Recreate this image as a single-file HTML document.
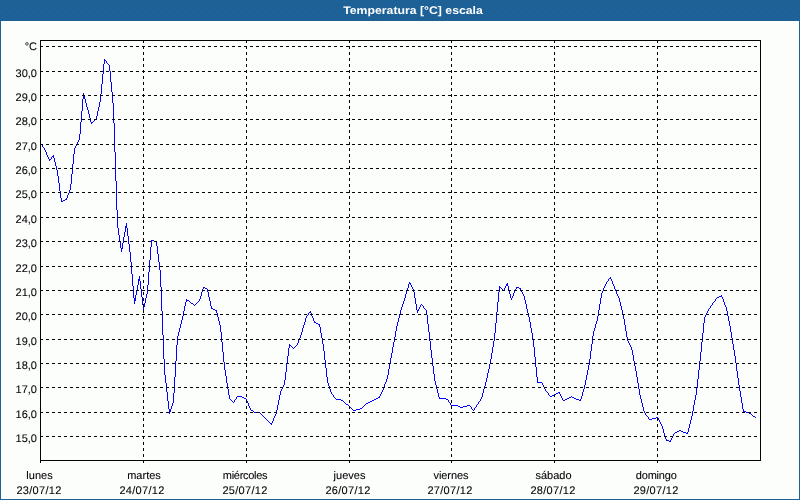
<!DOCTYPE html>
<html lang="es">
<head>
<meta charset="utf-8">
<title>Temperatura [°C] escala</title>
<style>
html,body{margin:0;padding:0;background:#fcfefc;overflow:hidden}
body{width:800px;height:500px;position:relative;font-family:'Liberation Sans', sans-serif}
svg{position:absolute;left:0;top:0;display:block}
svg text{font-family:'Liberation Sans', sans-serif;font-size:11px;fill:#040204;stroke:#040204;stroke-width:0.08px;text-rendering:geometricPrecision}
svg text.title{fill:#fff;stroke:none;font-weight:bold}
</style>
</head>
<body>
<svg width="800" height="500" viewBox="0 0 800 500">
<defs>
<pattern id="dither" x="0" y="0" width="8" height="12" patternUnits="userSpaceOnUse">
<rect width="8" height="12" fill="#1c6094"/>
<path d="M0 0h1v1h-1zM4 1h1v1h-1zM2 2h1v1h-1zM7 2h1v1h-1zM3 4h1v1h-1zM0 5h1v1h-1zM5 5h1v1h-1zM3 7h1v1h-1zM7 8h1v1h-1zM1 9h1v1h-1zM5 9h1v1h-1zM0 11h1v1h-1zM4 11h1v1h-1z" fill="#2062ac"/>
</pattern>
</defs>
<g shape-rendering="crispEdges">
<rect x="0" y="0" width="800" height="500" fill="#fcfefc"/>
<rect x="0" y="0" width="800" height="21" fill="url(#dither)"/>
<rect x="0" y="21" width="1" height="479" fill="#1c6094"/>
<rect x="799" y="21" width="1" height="479" fill="#1c6094"/>
<rect x="0" y="499" width="800" height="1" fill="#1c6094"/>
</g>
<text class="title" text-anchor="middle" transform="translate(413 14) scale(1.115 1)" x="0" y="0">Temperatura [°C] escala</text>
<g shape-rendering="crispEdges" fill="none" stroke="#040204" stroke-width="1">

<path stroke="none" fill="#0402fc" d="M40 143h1v1h-1zM41 144h1v1h-1zM42 145h1v2h-1zM43 147h1v1h-1zM44 148h1v2h-1zM45 150h1v2h-1zM46 152h1v3h-1zM47 155h1v2h-1zM48 157h1v2h-1zM49 159h1v2h-1zM50 159h1v1h-1zM51 157h1v2h-1zM52 156h1v1h-1zM53 155h1v3h-1zM54 158h1v4h-1zM55 162h1v4h-1zM56 166h1v4h-1zM57 170h1v6h-1zM58 176h1v7h-1zM59 183h1v8h-1zM60 191h1v7h-1zM61 198h1v4h-1zM62 201h1v1h-1zM63 200h2v1h-2zM65 199h1v1h-1zM66 198h1v2h-1zM67 195h1v3h-1zM68 193h1v2h-1zM69 190h1v3h-1zM70 184h1v6h-1zM71 174h1v10h-1zM72 164h1v10h-1zM73 154h1v10h-1zM74 148h1v6h-1zM75 146h1v2h-1zM76 144h1v2h-1zM77 142h1v2h-1zM78 140h1v2h-1zM79 134h1v6h-1zM80 122h1v12h-1zM81 111h1v11h-1zM82 99h1v12h-1zM83 93h1v6h-1zM84 95h1v4h-1zM85 99h1v4h-1zM86 103h1v4h-1zM87 107h1v3h-1zM88 110h1v4h-1zM89 114h1v4h-1zM90 118h1v4h-1zM91 122h1v2h-1zM92 122h1v1h-1zM93 121h1v1h-1zM94 120h1v1h-1zM95 119h1v1h-1zM96 116h1v3h-1zM97 111h1v5h-1zM98 107h1v4h-1zM99 102h1v5h-1zM100 94h1v8h-1zM101 84h1v10h-1zM102 74h1v10h-1zM103 64h1v10h-1zM104 59h1v5h-1zM105 60h1v1h-1zM106 61h1v2h-1zM107 63h1v1h-1zM108 64h1v1h-1zM109 65h1v6h-1zM110 71h1v11h-1zM111 82h1v10h-1zM112 92h1v11h-1zM113 103h1v20h-1zM114 123h1v29h-1zM115 152h1v29h-1zM116 181h1v29h-1zM117 210h1v18h-1zM118 228h1v7h-1zM119 235h1v6h-1zM120 241h1v7h-1zM121 248h1v4h-1zM122 243h1v6h-1zM123 237h1v6h-1zM124 232h1v5h-1zM125 226h1v6h-1zM126 223h1v5h-1zM127 228h1v8h-1zM128 236h1v8h-1zM129 244h1v8h-1zM130 252h1v10h-1zM131 262h1v12h-1zM132 274h1v12h-1zM133 286h1v12h-1zM134 298h1v6h-1zM135 295h1v6h-1zM136 290h1v5h-1zM137 285h1v5h-1zM138 279h1v6h-1zM139 276h1v5h-1zM140 281h1v8h-1zM141 289h1v8h-1zM142 297h1v8h-1zM143 305h1v5h-1zM144 303h1v4h-1zM145 298h1v5h-1zM146 294h1v4h-1zM147 285h1v9h-1zM148 272h1v13h-1zM149 260h1v12h-1zM150 247h1v13h-1zM151 240h1v7h-1zM152 240h2v1h-2zM154 241h2v1h-2zM156 241h1v5h-1zM157 246h1v8h-1zM158 254h1v8h-1zM159 262h1v8h-1zM160 270h1v17h-1zM161 287h1v24h-1zM162 311h1v24h-1zM163 335h1v24h-1zM164 359h1v16h-1zM165 375h1v8h-1zM166 383h1v9h-1zM167 392h1v9h-1zM168 401h1v8h-1zM169 409h1v5h-1zM170 409h1v3h-1zM171 406h1v3h-1zM172 403h1v3h-1zM173 393h1v10h-1zM174 377h1v16h-1zM175 361h1v16h-1zM176 345h1v16h-1zM177 336h1v9h-1zM178 332h1v4h-1zM179 328h1v4h-1zM180 324h1v4h-1zM181 320h1v4h-1zM182 316h1v4h-1zM183 311h1v5h-1zM184 306h1v5h-1zM185 302h1v4h-1zM186 299h1v3h-1zM187 300h2v1h-2zM189 301h1v1h-1zM190 302h1v1h-1zM191 303h2v1h-2zM193 304h1v1h-1zM194 305h1v1h-1zM195 304h1v1h-1zM196 303h1v1h-1zM197 302h1v1h-1zM198 301h1v1h-1zM199 299h1v2h-1zM200 296h1v3h-1zM201 292h1v4h-1zM202 289h1v3h-1zM203 287h1v2h-1zM204 287h1v1h-1zM205 288h2v1h-2zM207 289h1v3h-1zM208 292h1v5h-1zM209 297h1v4h-1zM210 301h1v5h-1zM211 306h1v3h-1zM212 308h1v1h-1zM213 309h2v1h-2zM215 310h1v1h-1zM216 310h1v3h-1zM217 313h1v4h-1zM218 317h1v4h-1zM219 321h1v4h-1zM220 325h1v7h-1zM221 332h1v10h-1zM222 342h1v10h-1zM223 352h1v10h-1zM224 362h1v8h-1zM225 370h1v6h-1zM226 376h1v7h-1zM227 383h1v6h-1zM228 389h1v6h-1zM229 395h1v4h-1zM230 399h1v1h-1zM231 400h1v1h-1zM232 401h1v1h-1zM233 402h1v1h-1zM234 400h1v2h-1zM235 399h1v1h-1zM236 397h1v2h-1zM237 396h5v1h-5zM242 397h2v1h-2zM244 398h2v1h-2zM246 399h1v2h-1zM247 401h1v2h-1zM248 403h1v3h-1zM249 406h1v2h-1zM250 408h1v2h-1zM251 410h2v1h-2zM253 411h1v1h-1zM254 412h6v1h-6zM260 413h1v1h-1zM261 414h1v1h-1zM262 415h1v1h-1zM263 416h1v1h-1zM264 417h1v1h-1zM265 418h1v1h-1zM266 419h1v1h-1zM267 420h1v1h-1zM268 421h1v1h-1zM269 422h1v1h-1zM270 423h1v1h-1zM271 423h1v2h-1zM272 421h1v2h-1zM273 418h1v3h-1zM274 416h1v2h-1zM275 414h1v2h-1zM276 410h1v4h-1zM277 405h1v5h-1zM278 400h1v5h-1zM279 395h1v5h-1zM280 391h1v4h-1zM281 389h1v2h-1zM282 387h1v2h-1zM283 385h1v2h-1zM284 380h1v5h-1zM285 372h1v8h-1zM286 364h1v8h-1zM287 356h1v8h-1zM288 348h1v8h-1zM289 344h1v4h-1zM290 345h1v1h-1zM291 346h1v1h-1zM292 347h1v1h-1zM293 348h1v1h-1zM294 347h1v1h-1zM295 346h1v1h-1zM296 345h1v1h-1zM297 343h1v2h-1zM298 340h1v3h-1zM299 338h1v2h-1zM300 335h1v3h-1zM301 332h1v3h-1zM302 328h1v4h-1zM303 325h1v3h-1zM304 322h1v3h-1zM305 318h1v4h-1zM306 316h1v2h-1zM307 315h1v1h-1zM308 313h1v2h-1zM309 312h1v1h-1zM310 311h1v2h-1zM311 313h1v3h-1zM312 316h1v2h-1zM313 318h1v3h-1zM314 321h1v2h-1zM315 322h1v1h-1zM316 323h2v1h-2zM318 324h1v1h-1zM319 324h1v3h-1zM320 327h1v6h-1zM321 333h1v5h-1zM322 338h1v6h-1zM323 344h1v7h-1zM324 351h1v9h-1zM325 360h1v8h-1zM326 368h1v9h-1zM327 377h1v6h-1zM328 383h1v3h-1zM329 386h1v3h-1zM330 389h1v3h-1zM331 392h1v2h-1zM332 394h1v1h-1zM333 395h1v2h-1zM334 397h1v1h-1zM335 398h1v1h-1zM336 399h5v1h-5zM341 400h2v1h-2zM343 401h1v1h-1zM344 402h1v1h-1zM345 403h1v1h-1zM346 404h2v1h-2zM348 405h1v1h-1zM349 406h1v1h-1zM350 407h1v1h-1zM351 408h1v1h-1zM352 409h1v1h-1zM353 410h3v1h-3zM356 409h4v1h-4zM360 408h2v1h-2zM362 407h1v1h-1zM363 406h1v1h-1zM364 405h1v1h-1zM365 404h1v1h-1zM366 403h2v1h-2zM368 402h2v1h-2zM370 401h2v1h-2zM372 400h2v1h-2zM374 399h2v1h-2zM376 398h2v1h-2zM378 397h1v1h-1zM379 396h1v2h-1zM380 394h1v2h-1zM381 392h1v2h-1zM382 390h1v2h-1zM383 387h1v3h-1zM384 384h1v3h-1zM385 382h1v2h-1zM386 379h1v3h-1zM387 375h1v4h-1zM388 369h1v6h-1zM389 364h1v5h-1zM390 358h1v6h-1zM391 353h1v5h-1zM392 347h1v6h-1zM393 342h1v5h-1zM394 337h1v5h-1zM395 331h1v6h-1zM396 326h1v5h-1zM397 322h1v4h-1zM398 318h1v4h-1zM399 314h1v4h-1zM400 310h1v4h-1zM401 307h1v3h-1zM402 304h1v3h-1zM403 301h1v3h-1zM404 298h1v3h-1zM405 294h1v4h-1zM406 291h1v3h-1zM407 288h1v3h-1zM408 284h1v4h-1zM409 282h1v2h-1zM410 283h1v2h-1zM411 285h1v2h-1zM412 287h1v2h-1zM413 289h1v3h-1zM414 292h1v6h-1zM415 298h1v6h-1zM416 304h1v6h-1zM417 310h1v3h-1zM418 309h1v2h-1zM419 307h1v2h-1zM420 305h1v2h-1zM421 304h1v1h-1zM422 305h1v1h-1zM423 306h1v2h-1zM424 308h1v1h-1zM425 309h1v1h-1zM426 310h1v5h-1zM427 315h1v9h-1zM428 324h1v8h-1zM429 332h1v9h-1zM430 341h1v9h-1zM431 350h1v8h-1zM432 358h1v8h-1zM433 366h1v8h-1zM434 374h1v7h-1zM435 381h1v4h-1zM436 385h1v4h-1zM437 389h1v4h-1zM438 393h1v4h-1zM439 397h1v2h-1zM440 398h6v1h-6zM446 399h2v1h-2zM448 400h1v2h-1zM449 402h1v1h-1zM450 403h1v2h-1zM451 405h7v1h-7zM458 406h2v1h-2zM460 407h3v1h-3zM463 406h4v1h-4zM467 405h3v1h-3zM470 406h1v1h-1zM471 407h1v2h-1zM472 409h1v1h-1zM473 410h1v1h-1zM474 408h1v2h-1zM475 407h1v1h-1zM476 405h1v2h-1zM477 404h1v1h-1zM478 402h1v2h-1zM479 401h1v1h-1zM480 399h1v2h-1zM481 397h1v2h-1zM482 393h1v4h-1zM483 389h1v4h-1zM484 386h1v3h-1zM485 382h1v4h-1zM486 378h1v4h-1zM487 373h1v5h-1zM488 369h1v4h-1zM489 364h1v5h-1zM490 359h1v5h-1zM491 353h1v6h-1zM492 347h1v6h-1zM493 341h1v6h-1zM494 333h1v8h-1zM495 323h1v10h-1zM496 312h1v11h-1zM497 302h1v10h-1zM498 292h1v10h-1zM499 286h1v6h-1zM500 287h1v1h-1zM501 288h1v1h-1zM502 289h1v1h-1zM503 290h1v1h-1zM504 288h1v2h-1zM505 286h1v2h-1zM506 284h1v2h-1zM507 283h1v3h-1zM508 286h1v4h-1zM509 290h1v4h-1zM510 294h1v4h-1zM511 298h1v2h-1zM512 296h1v2h-1zM513 293h1v3h-1zM514 291h1v2h-1zM515 289h1v2h-1zM516 287h1v2h-1zM517 287h2v1h-2zM519 288h1v1h-1zM520 288h1v2h-1zM521 290h1v2h-1zM522 292h1v2h-1zM523 294h1v2h-1zM524 296h1v4h-1zM525 300h1v4h-1zM526 304h1v5h-1zM527 309h1v4h-1zM528 313h1v4h-1zM529 317h1v5h-1zM530 322h1v6h-1zM531 328h1v5h-1zM532 333h1v6h-1zM533 339h1v8h-1zM534 347h1v10h-1zM535 357h1v10h-1zM536 367h1v10h-1zM537 377h1v6h-1zM538 382h4v1h-4zM542 383h1v2h-1zM543 385h1v2h-1zM544 387h1v2h-1zM545 389h1v2h-1zM546 391h1v1h-1zM547 392h1v1h-1zM548 393h1v2h-1zM549 395h1v1h-1zM550 396h2v1h-2zM552 395h2v1h-2zM554 394h2v1h-2zM556 393h2v1h-2zM558 392h1v1h-1zM559 392h1v2h-1zM560 394h1v2h-1zM561 396h1v2h-1zM562 398h1v2h-1zM563 400h2v1h-2zM565 399h2v1h-2zM567 398h2v1h-2zM569 397h2v1h-2zM571 396h1v1h-1zM572 397h2v1h-2zM574 398h2v1h-2zM576 399h3v1h-3zM579 400h1v1h-1zM580 399h1v2h-1zM581 396h1v3h-1zM582 392h1v4h-1zM583 389h1v3h-1zM584 385h1v4h-1zM585 380h1v5h-1zM586 375h1v5h-1zM587 370h1v5h-1zM588 365h1v5h-1zM589 359h1v6h-1zM590 351h1v8h-1zM591 344h1v7h-1zM592 336h1v8h-1zM593 331h1v5h-1zM594 328h1v3h-1zM595 324h1v4h-1zM596 321h1v3h-1zM597 316h1v5h-1zM598 310h1v6h-1zM599 304h1v6h-1zM600 298h1v6h-1zM601 293h1v5h-1zM602 291h1v2h-1zM603 288h1v3h-1zM604 286h1v2h-1zM605 284h1v2h-1zM606 282h1v2h-1zM607 281h1v1h-1zM608 279h1v2h-1zM609 278h1v1h-1zM610 277h1v2h-1zM611 279h1v2h-1zM612 281h1v3h-1zM613 284h1v2h-1zM614 286h1v3h-1zM615 289h1v2h-1zM616 291h1v3h-1zM617 294h1v2h-1zM618 296h1v2h-1zM619 298h1v4h-1zM620 302h1v4h-1zM621 306h1v4h-1zM622 310h1v4h-1zM623 314h1v5h-1zM624 319h1v6h-1zM625 325h1v6h-1zM626 331h1v6h-1zM627 337h1v4h-1zM628 341h1v2h-1zM629 343h1v2h-1zM630 345h1v2h-1zM631 347h1v3h-1zM632 350h1v5h-1zM633 355h1v6h-1zM634 361h1v5h-1zM635 366h1v5h-1zM636 371h1v6h-1zM637 377h1v6h-1zM638 383h1v6h-1zM639 389h1v6h-1zM640 395h1v4h-1zM641 399h1v4h-1zM642 403h1v4h-1zM643 407h1v4h-1zM644 411h1v2h-1zM645 413h1v2h-1zM646 415h1v1h-1zM647 416h1v1h-1zM648 417h1v2h-1zM649 419h3v1h-3zM652 418h4v1h-4zM656 417h2v1h-2zM658 418h1v2h-1zM659 420h1v2h-1zM660 422h1v2h-1zM661 424h1v2h-1zM662 426h1v3h-1zM663 429h1v4h-1zM664 433h1v3h-1zM665 436h1v3h-1zM666 439h1v2h-1zM667 440h2v1h-2zM669 441h1v1h-1zM670 440h1v2h-1zM671 438h1v2h-1zM672 436h1v2h-1zM673 434h1v2h-1zM674 433h1v1h-1zM675 432h2v1h-2zM677 431h2v1h-2zM679 430h2v1h-2zM681 431h2v1h-2zM683 432h3v1h-3zM686 433h1v1h-1zM687 432h1v2h-1zM688 428h1v4h-1zM689 424h1v4h-1zM690 420h1v4h-1zM691 416h1v4h-1zM692 411h1v5h-1zM693 405h1v6h-1zM694 400h1v5h-1zM695 395h1v5h-1zM696 388h1v7h-1zM697 379h1v9h-1zM698 370h1v9h-1zM699 361h1v9h-1zM700 352h1v9h-1zM701 342h1v10h-1zM702 333h1v9h-1zM703 323h1v10h-1zM704 317h1v6h-1zM705 315h1v2h-1zM706 313h1v2h-1zM707 311h1v2h-1zM708 309h1v2h-1zM709 308h1v1h-1zM710 306h1v2h-1zM711 305h1v1h-1zM712 303h1v2h-1zM713 302h1v1h-1zM714 301h1v1h-1zM715 299h1v2h-1zM716 298h1v1h-1zM717 297h2v1h-2zM719 296h2v1h-2zM721 295h1v2h-1zM722 297h1v2h-1zM723 299h1v3h-1zM724 302h1v3h-1zM725 305h1v2h-1zM726 307h1v4h-1zM727 311h1v5h-1zM728 316h1v5h-1zM729 321h1v5h-1zM730 326h1v6h-1zM731 332h1v6h-1zM732 338h1v6h-1zM733 344h1v6h-1zM734 350h1v6h-1zM735 356h1v7h-1zM736 363h1v8h-1zM737 371h1v7h-1zM738 378h1v7h-1zM739 385h1v6h-1zM740 391h1v6h-1zM741 397h1v6h-1zM742 403h1v6h-1zM743 409h1v3h-1zM744 411h2v1h-2zM746 412h3v1h-3zM749 413h2v1h-2zM751 414h1v1h-1zM752 415h1v1h-1zM753 416h2v1h-2zM755 417h1v1h-1z"/>
<g stroke-dasharray="3 3">
<line x1="40" y1="46.5" x2="757" y2="46.5"/>
<line x1="40" y1="71.5" x2="757" y2="71.5"/>
<line x1="40" y1="95.5" x2="757" y2="95.5"/>
<line x1="40" y1="119.5" x2="757" y2="119.5"/>
<line x1="40" y1="144.5" x2="757" y2="144.5"/>
<line x1="40" y1="168.5" x2="757" y2="168.5"/>
<line x1="40" y1="192.5" x2="757" y2="192.5"/>
<line x1="40" y1="217.5" x2="757" y2="217.5"/>
<line x1="40" y1="241.5" x2="757" y2="241.5"/>
<line x1="40" y1="266.5" x2="757" y2="266.5"/>
<line x1="40" y1="290.5" x2="757" y2="290.5"/>
<line x1="40" y1="314.5" x2="757" y2="314.5"/>
<line x1="40" y1="339.5" x2="757" y2="339.5"/>
<line x1="40" y1="363.5" x2="757" y2="363.5"/>
<line x1="40" y1="387.5" x2="757" y2="387.5"/>
<line x1="40" y1="412.5" x2="757" y2="412.5"/>
<line x1="40" y1="436.5" x2="757" y2="436.5"/>
<line x1="143.5" y1="40" x2="143.5" y2="460"/>
<line x1="246.5" y1="40" x2="246.5" y2="460"/>
<line x1="349.5" y1="40" x2="349.5" y2="460"/>
<line x1="451.5" y1="40" x2="451.5" y2="460"/>
<line x1="554.5" y1="40" x2="554.5" y2="460"/>
<line x1="657.5" y1="40" x2="657.5" y2="460"/>
</g>
<rect x="40.5" y="40.5" width="720" height="420"/>
<line x1="40.5" y1="461" x2="40.5" y2="463"/>
<line x1="143.5" y1="461" x2="143.5" y2="463"/>
<line x1="246.5" y1="461" x2="246.5" y2="463"/>
<line x1="349.5" y1="461" x2="349.5" y2="463"/>
<line x1="451.5" y1="461" x2="451.5" y2="463"/>
<line x1="554.5" y1="461" x2="554.5" y2="463"/>
<line x1="657.5" y1="461" x2="657.5" y2="463"/>
</g>
<g text-anchor="end">
<text x="37" y="50">°C</text>
<text x="37" y="77">30,0</text>
<text x="37" y="101">29,0</text>
<text x="37" y="125">28,0</text>
<text x="37" y="150">27,0</text>
<text x="37" y="174">26,0</text>
<text x="37" y="198">25,0</text>
<text x="37" y="223">24,0</text>
<text x="37" y="247">23,0</text>
<text x="37" y="272">22,0</text>
<text x="37" y="296">21,0</text>
<text x="37" y="320">20,0</text>
<text x="37" y="345">19,0</text>
<text x="37" y="369">18,0</text>
<text x="37" y="393">17,0</text>
<text x="37" y="418">16,0</text>
<text x="37" y="442">15,0</text>
</g>
<g text-anchor="middle">
<text x="39.5" y="479">lunes</text>
<text x="39" y="494" letter-spacing="0.3">23/07/12</text>
<text x="144.0" y="479">martes</text>
<text x="142" y="494" letter-spacing="0.3">24/07/12</text>
<text x="245.0" y="479" letter-spacing="-0.3">miércoles</text>
<text x="245" y="494" letter-spacing="0.3">25/07/12</text>
<text x="349.5" y="479">jueves</text>
<text x="348" y="494" letter-spacing="0.3">26/07/12</text>
<text x="451.0" y="479" letter-spacing="-0.1">viernes</text>
<text x="450" y="494" letter-spacing="0.3">27/07/12</text>
<text x="553.5" y="479">sábado</text>
<text x="553" y="494" letter-spacing="0.3">28/07/12</text>
<text x="656.2" y="479" letter-spacing="-0.2">domingo</text>
<text x="656" y="494" letter-spacing="0.3">29/07/12</text>
</g>
</svg>
</body>
</html>
